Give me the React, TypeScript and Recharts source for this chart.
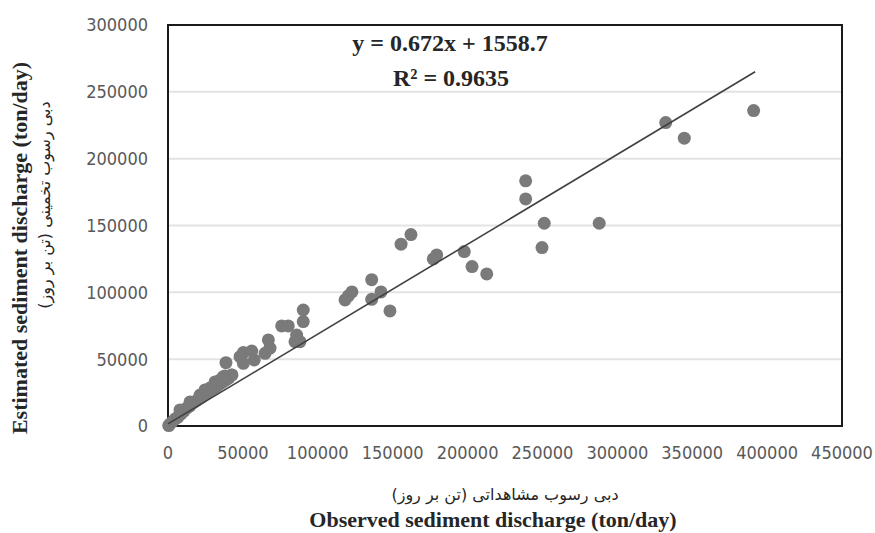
import { ScatterChart, Scatter, XAxis, YAxis, CartesianGrid, ReferenceArea } from 'recharts'

// observed (x) vs estimated (y) sediment discharge, ton/day
const observed = [
  391000, 332300, 344700, 287900, 251200, 249700, 238800, 238800, 197800, 203000,
  212800, 162200, 155600, 179400, 177100, 136000, 142200, 136000, 148200, 120400,
  118200, 122800, 90300, 90300, 75900, 80300, 85900, 88100, 84800, 67000,
  68100, 64800, 50300, 55900, 57600, 50300, 48100, 38700, 36900, 42500,
  500, 1300, 2700, 4700, 6700, 8700, 10700, 12700, 14700, 16700,
  18700, 20700, 22700, 24700, 26700, 28700, 30700, 32700, 34700, 36700,
  38700, 40700, 42700, 8000, 14700, 21400, 28000, 34700, 24700, 31400, 38000,
]
const estimated = [
  236000, 227000, 215300, 151700, 151700, 133500, 183400, 169900, 130500, 119300,
  113800, 143200, 136000, 128000, 125000, 109500, 100300, 94800, 86100, 97300,
  94300, 100300, 86800, 78100, 74900, 74900, 68100, 63100, 63100, 64400,
  58200, 54400, 54900, 56100, 49400, 46900, 51900, 47400, 36900, 38200,
  300, 1500, 3000, 5200, 6700, 9000, 11200, 13500, 15000, 17200,
  18700, 20200, 21700, 24000, 25400, 26900, 28400, 29900, 31400, 32900,
  34400, 35900, 38200, 12000, 18000, 23200, 28400, 34400, 27000, 33000, 37400,
]

const xTicks = [0, 50000, 100000, 150000, 200000, 250000, 300000, 350000, 400000, 450000]
const yTicks = [0, 50000, 100000, 150000, 200000, 250000, 300000]

// linear trendline as printed on the chart
const slope = 0.672
const intercept = 1558.7
const trendRange = [0, 392000]

const points = observed.map((x, i) => ({ x, y: estimated[i] }))
const trend = trendRange.map((x) => ({ x, y: slope * x + intercept }))

const tickStyle = { fontSize: 18, fill: '#595959', fontFamily: '"Liberation Sans Narrow", "DejaVu Sans Condensed", sans-serif' }
const serif = '"Liberation Serif", "DejaVu Serif", serif'
const persian = '"DejaVu Sans", sans-serif'

const Dot = (props: any) => <circle cx={props.cx} cy={props.cy} r={6.5} fill="#7a7a7a" />

export default function App() {
  return (
    <div style={{ position: 'absolute', left: 0, top: 0, width: 875, height: 533, background: '#fff' }}>
      <ScatterChart width={875} height={533} margin={{ top: 25, right: 33, left: 0, bottom: 0 }}>
        <CartesianGrid vertical={false} stroke="#e3e3e3" strokeWidth={2} />
        <XAxis
          type="number"
          dataKey="x"
          domain={[0, 450000]}
          ticks={xTicks}
          height={107}
          axisLine={false}
          tickLine={false}
          tickSize={6}
          tickMargin={14}
          tick={tickStyle}
          interval={0}
        />
        <YAxis
          type="number"
          dataKey="y"
          domain={[0, 300000]}
          ticks={yTicks}
          width={168}
          axisLine={false}
          tickLine={false}
          tickSize={6}
          tickMargin={14}
          tick={tickStyle}
          interval={0}
        />
        <ReferenceArea x1={0} x2={450000} y1={0} y2={300000} fill="none" stroke="#1a1a1a" strokeWidth={2} fillOpacity={0} />
        <Scatter data={points} shape={Dot} isAnimationActive={false} />
        <Scatter data={trend} line={{ stroke: '#404040', strokeWidth: 1.6 }} shape={() => null} isAnimationActive={false} />
      </ScatterChart>
      <svg width={875} height={533} style={{ position: 'absolute', left: 0, top: 0, pointerEvents: 'none' }}>
        <text x={450} y={51} textAnchor="middle" fontFamily={serif} fontWeight="bold" fontSize={24} fill="#262626">
          y = 0.672x + 1558.7
        </text>
        <text x={451} y={86} textAnchor="middle" fontFamily={serif} fontWeight="bold" fontSize={24} fill="#262626">
          R² = 0.9635
        </text>
        <text x={505} y={500} textAnchor="middle" fontFamily={persian} fontSize={16} fill="#262626" direction="rtl">
          دبی رسوب مشاهداتی (تن بر روز)
        </text>
        <text x={493} y={527} textAnchor="middle" fontFamily={serif} fontWeight="bold" fontSize={22} fill="#262626">
          Observed sediment discharge (ton/day)
        </text>
        <text transform="translate(27, 248) rotate(-90)" textAnchor="middle" fontFamily={serif} fontWeight="bold" fontSize={22} fill="#262626">
          Estimated sediment discharge (ton/day)
        </text>
        <text transform="translate(50, 205) rotate(-90)" textAnchor="middle" fontFamily={persian} fontSize={16} fill="#262626" direction="rtl">
          دبی رسوب تخمینی (تن بر روز)
        </text>
      </svg>
    </div>
  )
}
